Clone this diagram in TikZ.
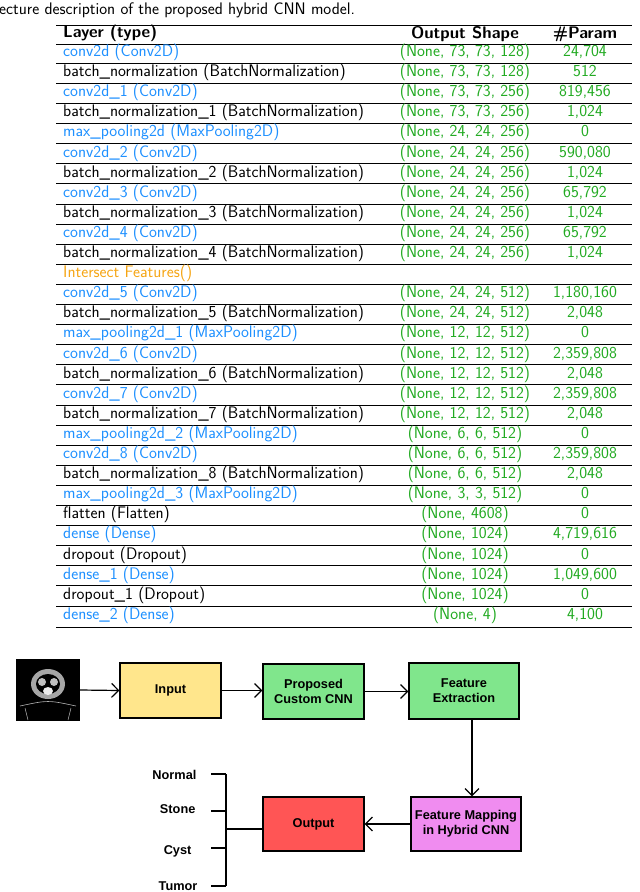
\documentclass[tikz,border=0pt]{standalone}
\usepackage{fontspec}
\newfontfamily\hv{Liberation Sans}
\usetikzlibrary{arrows.meta}
\definecolor{lb}{RGB}{30,144,255}
\definecolor{lg}{RGB}{34,170,34}
\definecolor{lo}{RGB}{245,165,20}
\definecolor{cin}{RGB}{255,230,140}
\definecolor{cgr}{RGB}{128,230,140}
\definecolor{cred}{RGB}{255,85,85}
\definecolor{cpk}{RGB}{240,140,240}
\begin{document}
\begin{tikzpicture}[x=1bp,y=-1bp,
  txt/.style={font=\sffamily\fontsize{16.8}{18}\selectfont,inner sep=0},
  box/.style={draw,line width=1.2bp,font=\hv\bfseries\fontsize{12.8}{15}\selectfont,align=center,inner sep=0},
  arr/.style={line width=1.2bp,-{Straight Barb[length=7bp,width=14bp]}},
  ln/.style={line width=1.2bp}]
\useasboundingbox (0,0) rectangle (640,892);
\node[txt,anchor=west] (cap) at (-1,10) {ecture description of the proposed hybrid CNN model.};
\draw[line width=0.8bp] (56,25) -- (632,25);
\draw[line width=0.5bp] (56,44) -- (632,44);
\draw[line width=0.8bp] (56,627) -- (632,627);
\node[txt,anchor=west] (h1) at (63,34) {\strut\bfseries Layer (type)};
\node[txt] (h2) at (465,34) {\bfseries Output Shape};
\node[txt] (h3) at (585,34) {\bfseries\#Param};
\def\rows{%
{lb/conv2d (Conv2D)/(None, 73, 73, 128)/24,704},%
{black/batch\_normalization (BatchNormalization)/(None, 73, 73, 128)/512},%
{lb/conv2d\_1 (Conv2D)/(None, 73, 73, 256)/819,456},%
{black/batch\_normalization\_1 (BatchNormalization)/(None, 73, 73, 256)/1,024},%
{lb/max\_pooling2d (MaxPooling2D)/(None, 24, 24, 256)/0},%
{lb/conv2d\_2 (Conv2D)/(None, 24, 24, 256)/590,080},%
{black/batch\_normalization\_2 (BatchNormalization)/(None, 24, 24, 256)/1,024},%
{lb/conv2d\_3 (Conv2D)/(None, 24, 24, 256)/65,792},%
{black/batch\_normalization\_3 (BatchNormalization)/(None, 24, 24, 256)/1,024},%
{lb/conv2d\_4 (Conv2D)/(None, 24, 24, 256)/65,792},%
{black/batch\_normalization\_4 (BatchNormalization)/(None, 24, 24, 256)/1,024},%
{lo/Intersect Features()//},%
{lb/conv2d\_5 (Conv2D)/(None, 24, 24, 512)/1,180,160},%
{black/batch\_normalization\_5 (BatchNormalization)/(None, 24, 24, 512)/2,048},%
{lb/max\_pooling2d\_1 (MaxPooling2D)/(None, 12, 12, 512)/0},%
{lb/conv2d\_6 (Conv2D)/(None, 12, 12, 512)/2,359,808},%
{black/batch\_normalization\_6 (BatchNormalization)/(None, 12, 12, 512)/2,048},%
{lb/conv2d\_7 (Conv2D)/(None, 12, 12, 512)/2,359,808},%
{black/batch\_normalization\_7 (BatchNormalization)/(None, 12, 12, 512)/2,048},%
{lb/max\_pooling2d\_2 (MaxPooling2D)/(None, 6, 6, 512)/0},%
{lb/conv2d\_8 (Conv2D)/(None, 6, 6, 512)/2,359,808},%
{black/batch\_normalization\_8 (BatchNormalization)/(None, 6, 6, 512)/2,048},%
{lb/max\_pooling2d\_3 (MaxPooling2D)/(None, 3, 3, 512)/0},%
{black/flatten (Flatten)/(None, 4608)/0},%
{lb/dense (Dense)/(None, 1024)/4,719,616},%
{black/dropout (Dropout)/(None, 1024)/0},%
{lb/dense\_1 (Dense)/(None, 1024)/1,049,600},%
{black/dropout\_1 (Dropout)/(None, 1024)/0},%
{lb/dense\_2 (Dense)/(None, 4)/4,100}}
\foreach [count=\i] \c/\a/\b/\p in \rows {
  \pgfmathsetmacro\yy{53+(\i-1)*20.1}
  \node[txt,anchor=west,text=\c] (a\i) at (63,\yy) {\strut\a};
  \node[txt,text=lg] (b\i) at (465,\yy) {\strut\b};
  \node[txt,text=lg] (c\i) at (585,\yy) {\strut\p};
  \ifnum\i<29 \draw[line width=0.4bp] (56,\yy+10.05) -- (632,\yy+10.05); \fi
}
% CT image
\node[fill=black,minimum width=64bp,minimum height=62bp,inner sep=0] (ct) at (48,690) {};
\fill[gray!70] (48,684) ellipse (17bp and 15bp);
\fill[black] (48,684) ellipse (12bp and 10bp);
\fill[gray!50] (42,682) circle (4bp) (54,682) circle (4bp);
\fill[white!85!gray] (48,691) ellipse (5bp and 4bp);
\draw[gray!60,line width=0.6bp] (20,706) .. controls (48,700) .. (76,706);
\draw[gray!60,line width=0.5bp] (25,708) -- (28,720) (71,708) -- (68,720);
% boxes
\node[box,fill=cin,minimum width=101bp,minimum height=55bp] (in) at (170.5,690.5) {Input};
\node[box,fill=cgr,minimum width=101bp,minimum height=55bp] (cnn) at (313.5,691.5) {Proposed\\Custom CNN};
\node[box,fill=cgr,minimum width=110bp,minimum height=56bp] (fe) at (464,691) {Feature\\Extraction};
\node[box,fill=cpk,minimum width=110bp,minimum height=54bp] (fm) at (466,824) {Feature Mapping\\in Hybrid CNN};
\node[box,fill=cred,minimum width=101bp,minimum height=54bp] (out) at (313.5,824) {Output};
\draw[arr] (ct.east) -- (in.west);
\draw[arr] (in.east) -- (cnn.west|-in.east);
\draw[arr] (cnn.east) -- (fe.west|-cnn.east);
\coordinate (fd) at (472,719);
\draw[arr] (fd) -- (fd|-fm.north);
\draw[arr] (fm.west) -- (out.east);
% bracket
\coordinate (bt) at (226,774);
\coordinate (bb) at (226,886);
\coordinate (bj) at (226,829);
\draw[ln] (bt) -- (bb);
\draw[ln] (bj) -- (bj-|out.west);
\foreach \y in {774,811,848,886}{
  \draw[ln] (211,\y) -- (226,\y);
}
\node[box,draw=none,anchor=east] (l1) at (197,775) {Normal};
\node[box,draw=none,anchor=east] (l2) at (196,809) {Stone};
\node[box,draw=none,anchor=east] (l3) at (192,851) {Cyst};
\node[box,draw=none,anchor=east] (l4) at (198,886) {Tumor};
\end{tikzpicture}
\end{document}
